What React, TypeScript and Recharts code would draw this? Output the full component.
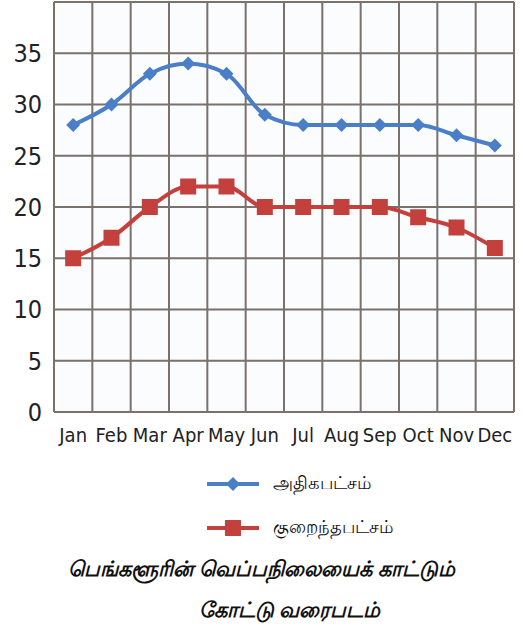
import { CartesianGrid, Line, LineChart, XAxis, YAxis } from "recharts";

const months = ["Jan", "Feb", "Mar", "Apr", "May", "Jun", "Jul", "Aug", "Sep", "Oct", "Nov", "Dec"];
const maxTemp = [28, 30, 33, 34, 33, 29, 28, 28, 28, 28, 27, 26];
const minTemp = [15, 17, 20, 22, 22, 20, 20, 20, 20, 19, 18, 16];
const yTicks = [0, 5, 10, 15, 20, 25, 30, 35, 40];
const seriesNames = ["அதிகபட்சம்", "குறைந்தபட்சம்"];
const titleLines = ["பெங்களூரின் வெப்பநிலையைக் காட்டும்", "கோட்டு வரைபடம்"];

const BLUE = "#4a7fc8";
const RED = "#c4403c";
const GRID = "#7a706c";
const FONT = "'DejaVu Sans Condensed', 'DejaVu Sans', sans-serif";

const data = months.map((month, i) => ({ month, max: maxTemp[i], min: minTemp[i] }));

const Diamond = ({ cx, cy }: any) =>
  cx == null ? null : (
    <path d={`M${cx},${cy - 7} L${cx + 7},${cy} L${cx},${cy + 7} L${cx - 7},${cy} Z`} fill={BLUE} />
  );

const Square = ({ cx, cy }: any) =>
  cx == null ? null : <rect x={cx - 8} y={cy - 8} width={16} height={16} fill={RED} />;

function LegendIcon({ color, square }: { color: string; square: boolean }) {
  return (
    <svg width={56} height={20}>
      <line x1={2} y1={10} x2={54} y2={10} stroke={color} strokeWidth={4} />
      {square ? <rect x={20} y={2} width={16} height={16} fill={color} /> : <path d="M28,3 L35,10 L28,17 L21,10 Z" fill={color} />}
    </svg>
  );
}

export default function App() {
  return (
    <div style={{ position: "absolute", left: 0, top: 0, width: 523, height: 634, background: "#fff" }}>
      <LineChart width={523} height={450} data={data} margin={{ top: 2, right: 9, left: 0, bottom: 0 }}>
        <CartesianGrid
          stroke={GRID}
          strokeWidth={2}
          fill="#fafcfe"
          verticalCoordinatesGenerator={({ offset }: any) =>
            Array.from({ length: months.length + 1 }, (_, i) => offset.left + (i * offset.width) / months.length)
          }
        />
        <XAxis
          dataKey="month"
          scale="band"
          interval={0}
          tickLine={false}
          axisLine={{ stroke: GRID, strokeWidth: 2 }}
          tickMargin={10}
          height={38}
          tick={{ fontSize: 20, fill: "#222", fontFamily: FONT }}
        />
        <YAxis
          domain={[0, 40]}
          ticks={yTicks}
          width={54}
          tickLine={false}
          axisLine={false}
          tickMargin={6}
          tickFormatter={(v) => (v === 40 ? "" : String(v))}
          tick={{ fontSize: 25, fill: "#222", fontFamily: FONT }}
        />
        <Line type="monotone" dataKey="max" name={seriesNames[0]} stroke={BLUE} strokeWidth={4} dot={<Diamond />} isAnimationActive={false} />
        <Line type="monotone" dataKey="min" name={seriesNames[1]} stroke={RED} strokeWidth={4} dot={<Square />} isAnimationActive={false} />
      </LineChart>
      <div style={{ position: "absolute", left: 205, top: 472, fontFamily: "sans-serif", fontSize: 18, color: "#111" }}>
        {seriesNames.map((name, i) => (
          <div key={name} style={{ display: "flex", alignItems: "center", height: 24, marginBottom: 20 }}>
            <LegendIcon color={i === 0 ? BLUE : RED} square={i === 1} />
            <span style={{ marginLeft: 12 }}>{name}</span>
          </div>
        ))}
      </div>
      <div style={{ position: "absolute", left: 0, top: 557, width: 523, fontFamily: "sans-serif", fontWeight: "bold", fontStyle: "italic", fontSize: 21, color: "#111", textAlign: "center" }}>
        <div style={{ height: 41 }}>{titleLines[0]}</div>
        <div style={{ paddingLeft: 56 }}>{titleLines[1]}</div>
      </div>
    </div>
  );
}
